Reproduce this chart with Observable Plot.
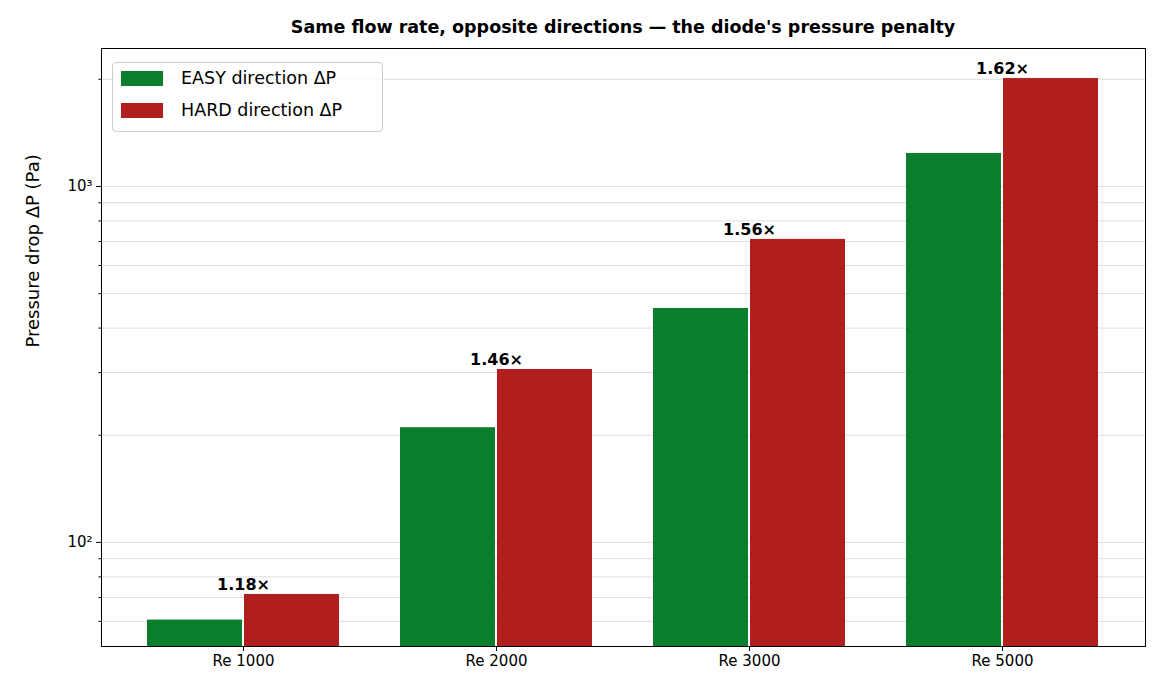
<!DOCTYPE html>
<html><head><meta charset="utf-8">
<script src="https://cdn.jsdelivr.net/npm/d3@7"></script>
<script src="https://cdn.jsdelivr.net/npm/@observablehq/plot@0.6"></script>
<style>
body{margin:0;font-family:"DejaVu Sans",sans-serif;background:#fff}
#wrap{position:relative;width:1176px;height:700px}
#title{position:absolute;top:17px;left:101px;width:1044px;text-align:center;font-weight:bold;font-size:17.5px;font-family:"DejaVu Sans";white-space:nowrap;z-index:2}
#legend{position:absolute;left:112px;top:62px;width:269px;height:68px;border:1px solid #ccc;border-radius:4px;background:rgba(255,255,255,0.85);font-size:17.5px;z-index:2}
.li{position:absolute;left:8px;display:flex;align-items:center}
.sw{width:42px;height:15px;margin-right:18px}
</style></head><body>
<div id="wrap"><div id="title">Same flow rate, opposite directions — the diode's pressure penalty</div>
<div id="legend"><div class="li" style="top:5px"><div class="sw" style="background:#0a7e2d"></div>EASY direction ΔP</div>
<div class="li" style="top:37px"><div class="sw" style="background:#b11e1e"></div>HARD direction ΔP</div></div></div>
<script>
const categories=["Re 1000","Re 2000","Re 3000","Re 5000"];
const easy=[60.5,210,454,1238];
const hard=[71.4,306,710,2010];
const ratios=["1.18×","1.46×","1.56×","1.62×"];
const colors=["#0a7e2d","#b11e1e"];
const easyData=categories.map((c,i)=>({c,v:easy[i]}));
const hardData=categories.map((c,i)=>({c,v:hard[i],t:ratios[i]}));
const minor=[];
for(const d of [10,100,1000]) for(let k=2;k<=9;k++){const v=k*d; if(v>51&&v<2441) minor.push(v);}
const chart=Plot.plot({
 width:1176,height:700,marginTop:48,marginBottom:54,marginLeft:101,marginRight:31,
 style:{fontFamily:"DejaVu Sans",fontSize:"14px",color:"#000"},
 x:{domain:categories,paddingInner:0.24,paddingOuter:0.18,label:null},
 y:{type:"log",domain:[51,2441],label:null},
 marks:[
  Plot.gridY([100,1000,...minor],{stroke:"#ddd",strokeOpacity:1}),
  Plot.barY(easyData,{x:"c",y1:51,y2:"v",fill:colors[0],insetRight:97,insetLeft:0}),
  Plot.barY(hardData,{x:"c",y1:51,y2:"v",fill:colors[1],insetLeft:97,insetRight:0}),
  Plot.text(hardData,{x:"c",y:"v",text:"t",dy:-10,fontWeight:"bold",fontSize:16}),
  Plot.axisX({tickSize:5,fontSize:15,tickPadding:4}),
  Plot.axisY([100,1000],{tickFormat:d=>d===100?"10²":"10³",tickSize:5,fontSize:15}),
  Plot.axisY(minor,{tickFormat:()=>"",tickSize:2.5}),
  Plot.frame({stroke:"#000"}),
  Plot.text(["Pressure drop ΔP (Pa)"],{frameAnchor:"left",dx:-68,rotate:-90,fontSize:18})
 ]
});
document.getElementById("wrap").prepend(chart);
chart.style.position="absolute";chart.style.top="0";chart.style.left="0";
</script></body></html>
